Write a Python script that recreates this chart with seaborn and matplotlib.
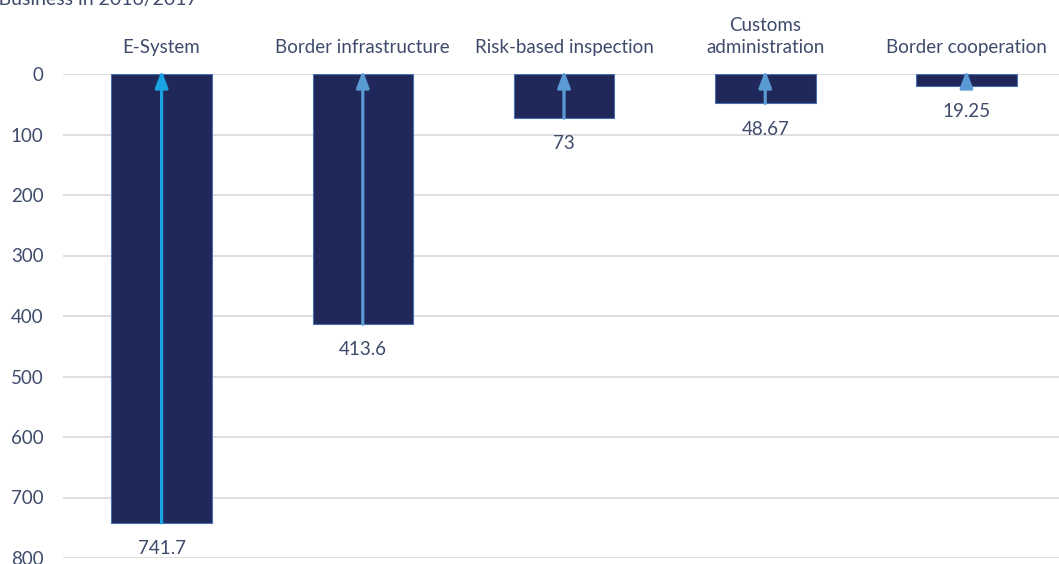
import matplotlib
matplotlib.use("Agg")
import matplotlib.pyplot as plt
import seaborn as sns
import pandas as pd

categories = ["E-System", "Border infrastructure", "Risk-based inspection",
              "Customs\nadministration", "Border cooperation"]
values = [741.7, 413.6, 73, 48.67, 19.25]
value_labels = ["741.7", "413.6", "73", "48.67", "19.25"]
arrow_colors = ["#1AA3E3", "#5B9BD5", "#5B9BD5", "#5B9BD5", "#5B9BD5"]
y_ticks = [0, 100, 200, 300, 400, 500, 600, 700, 800]
title = "Doing Business in 2016/2017"

sns.set_theme(style="white")
plt.rcParams['font.family'] = ['Lato', 'DejaVu Sans']

text_color = "#3E4B6B"
bar_color = "#1F2859"
fs = 13.5

df = pd.DataFrame({"category": categories, "value": values})

fig = plt.figure(figsize=(10.59, 5.64), dpi=100)
ax = fig.add_axes([63/1059, 6/564, 1 - 63/1059, (558-74)/564])

sns.barplot(data=df, x="category", y="value", color=bar_color, width=0.5,
            saturation=1, edgecolor="#4A6FB5", linewidth=0.8, ax=ax, zorder=3)

ax.set_ylim(800, 0)
ax.set_xlim(-0.49, 4.46)
ax.set_yticks(y_ticks)
ax.yaxis.grid(True, color="#D9D9D9", linewidth=1.2, zorder=0)
ax.set_axisbelow(True)
for s in ax.spines.values():
    s.set_visible(False)

ax.xaxis.tick_top()
ax.set_xlabel("")
ax.set_ylabel("")
ax.tick_params(axis="x", length=0, pad=13, labelsize=fs, labelcolor=text_color)
ax.tick_params(axis="y", length=0, pad=14, labelsize=fs, labelcolor=text_color)
for lab in ax.get_xticklabels():
    lab.set_linespacing(1.35)

for i, (v, lbl, c) in enumerate(zip(values, value_labels, arrow_colors)):
    ax.annotate("", xy=(i, -6), xytext=(i, v),
                arrowprops=dict(arrowstyle="-|>,head_length=0.85,head_width=0.32",
                                color=c, lw=2.3, shrinkA=0, shrinkB=0,
                                mutation_scale=12),
                zorder=5, annotation_clip=False)
    ax.annotate(lbl, xy=(i, v), xytext=(0, -18.5), textcoords="offset points",
                ha="center", va="center", fontsize=fs, color=text_color,
                annotation_clip=False)

fig.text(198/1059, 1 + 1/564, title, ha="right", va="center",
         fontsize=14, color=text_color)

fig.savefig("out.png", dpi=100)
